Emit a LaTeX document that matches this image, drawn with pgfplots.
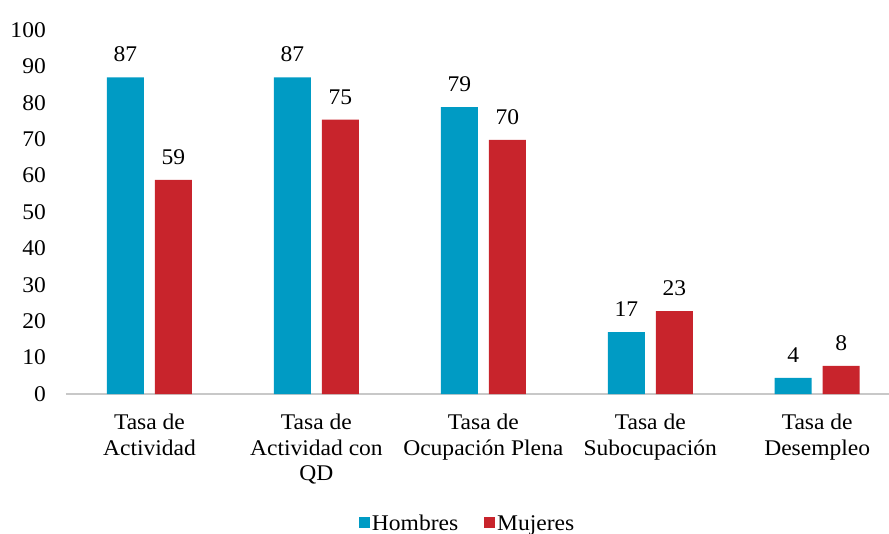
\documentclass[border=0pt]{standalone}
\usepackage{fontspec}
\setmainfont[FakeStretch=1.05]{Liberation Serif}
\usepackage{pgfplots}
\pgfplotsset{compat=1.18}
\definecolor{hblue}{RGB}{0,155,196}
\definecolor{mred}{RGB}{200,36,44}
\definecolor{axgray}{RGB}{200,200,200}
\begin{document}
\begin{tikzpicture}[font=\fontsize{22.5}{25.5}\selectfont]
\useasboundingbox (-66bp,-140bp) rectangle (823bp,394bp);
\begin{axis}[
  scale only axis, width=823bp, height=364bp,
  at={(0,0)}, anchor=south west,
  xmin=-0.5, xmax=4.43, ymin=0, ymax=100,
  ybar=11bp, bar width=37bp,
  /pgf/number format/assume math mode=true,
  separate axis lines,
  x axis line style={draw=axgray, line width=1.2bp},
  y axis line style={draw=none},
  axis x line*=bottom, axis y line*=left,
  major tick length=0pt,
  ytick={0,10,...,100},
  xtick={0,1,2,3,4},
  xticklabels={{Tasa de\\Actividad},{Tasa de\\Actividad con\\QD},{Tasa de\\Ocupación Plena},{Tasa de\\Subocupación},{Tasa de\\Desempleo}},
  xticklabel style={align=center, inner sep=0pt, anchor=north, yshift=-20bp},
  yticklabel style={inner sep=0pt, anchor=east, xshift=-20bp},
  nodes near coords={\pgfmathprintnumber[fixed,precision=0]{\pgfplotspointmeta}},
  every node near coord/.append style={inner sep=0pt, yshift=15bp, text=black},
  legend columns=2,
  legend style={draw=none, fill=none, at={(0.488,-0.356)}, anchor=center,
    /tikz/every even column/.append style={column sep=24bp}},
  legend image code/.code={\fill[#1] (0bp,-4bp) rectangle (11bp,7bp);},
]
\addplot[fill=hblue, draw=none] coordinates {(0,87.0) (1,87.0) (2,78.8) (3,17.0) (4,4.4)};
\addplot[fill=mred, draw=none] coordinates {(0,58.8) (1,75.4) (2,69.8) (3,22.8) (4,7.7)};
\legend{Hombres, Mujeres}
\end{axis}
\end{tikzpicture}
\end{document}
